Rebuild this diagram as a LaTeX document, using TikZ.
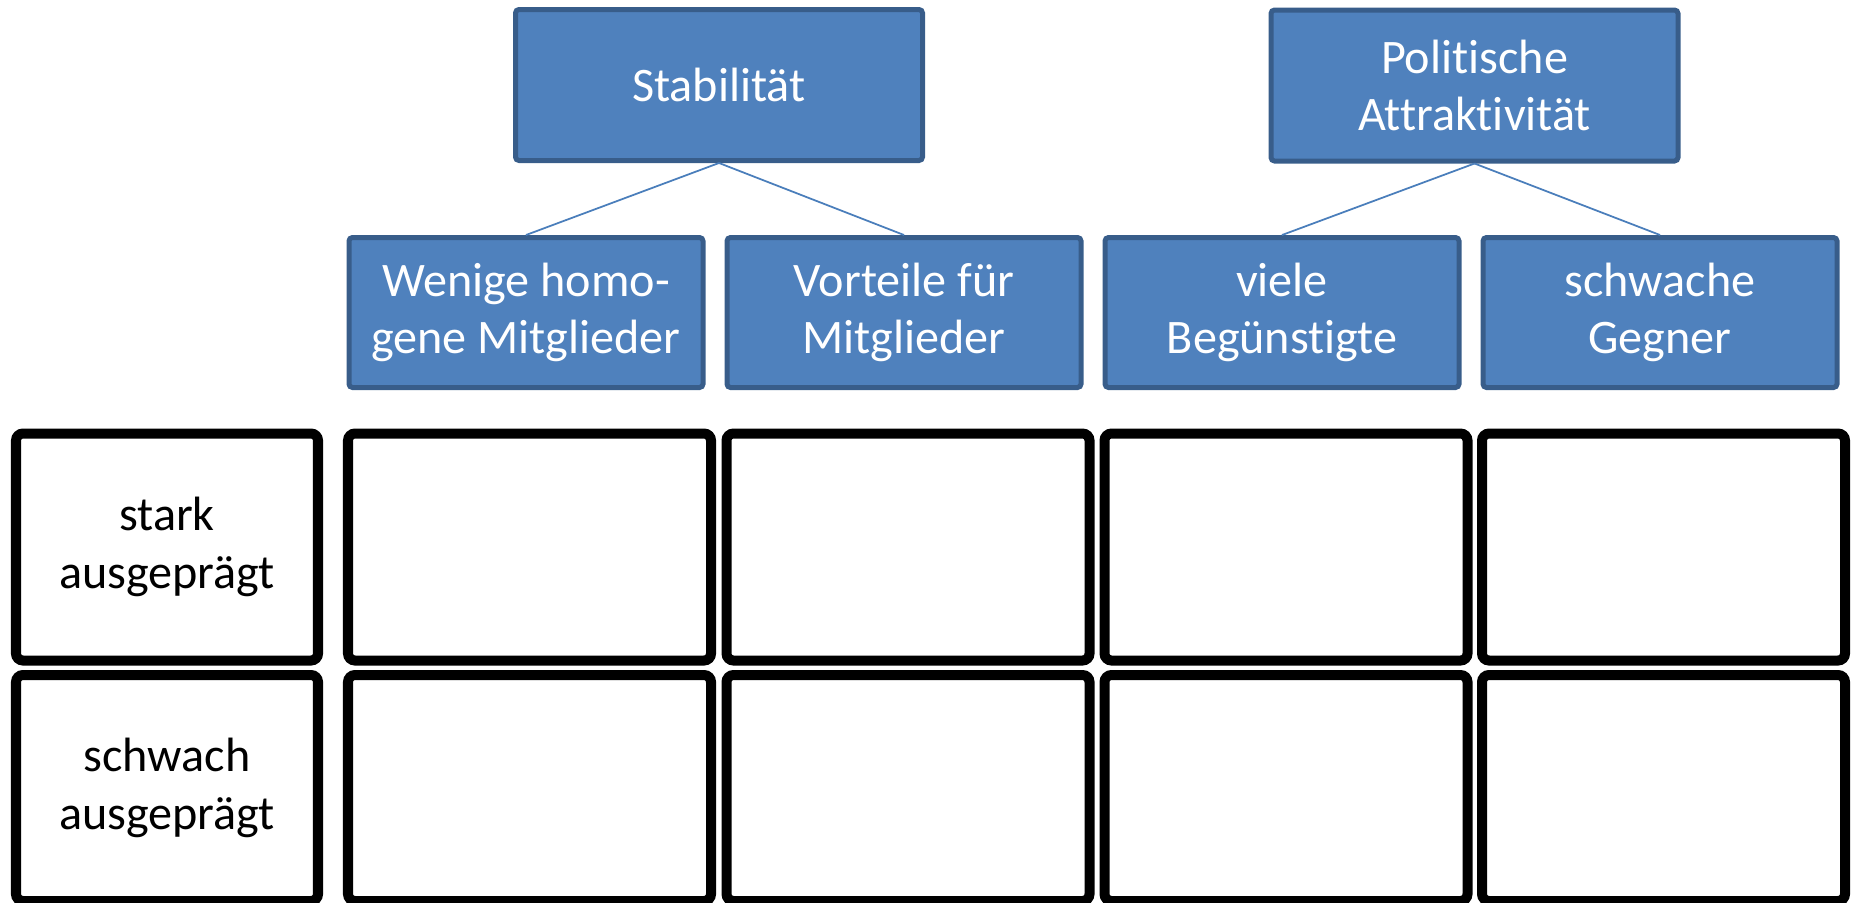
\documentclass[tikz,border=0pt]{standalone}
\usepackage{fontspec}
\setmainfont[Ligatures={NoCommon}]{Carlito}
\usepackage{xcolor}
\usepackage{tikz}
\usetikzlibrary{positioning}
\definecolor{boxfill}{RGB}{79,129,189}
\definecolor{boxline}{RGB}{56,93,138}
\definecolor{link}{RGB}{74,126,187}
\tikzset{
  factor/.style ={rectangle, rounded corners=1pt, draw=boxline, fill=boxfill,
                  line width=1.42pt, text=white, align=center,
                  font=\fontsize{13.7pt}{16.4pt}\selectfont},
  topbox/.style ={factor, minimum width=4.07cm, minimum height=1.51cm},
  subbox/.style ={factor, minimum width=3.54cm, minimum height=1.50cm},
  cell/.style   ={rectangle, rounded corners=2pt, draw=black, fill=white,
                  line width=2.85pt, align=center, minimum height=2.27cm,
                  font=\fontsize{13.7pt}{16.4pt}\selectfont},
  rowcell/.style={cell, minimum width=3.02cm},
  gridcell/.style={cell, minimum width=3.63cm},
  link/.style   ={draw=link, line width=0.5pt},
}

\begin{document}
\begin{tikzpicture}[x=1cm, y=1cm]
\useasboundingbox (0,0) rectangle (18.54,9.02);
\node[topbox] (stab) at (7.19,8.17) {Stabilität};
\node[topbox] (attr) at (14.745,8.165) {Politische\\Attraktivität};
\node[subbox] (homog) at (5.26,5.895) {Wenige homo-\\gene Mitglieder};
\node[subbox] (vort) at (9.04,5.895) {Vorteile für\\Mitglieder};
\node[subbox] (begue) at (12.82,5.895) {viele\\Begünstigte};
\node[subbox] (gegner) at (16.60,5.895) {schwache\\Gegner};
\draw[link] (stab.south) -- (homog.north);
\draw[link] (stab.south) -- (vort.north);
\draw[link] (attr.south) -- (begue.north);
\draw[link] (attr.south) -- (gegner.north);
% stark ausgepraegt
\node[rowcell] (stark) at (1.67,3.55) {stark\\ausgeprägt};
\node[gridcell] (stark-homog) at (5.295,3.55) {};
\node[gridcell] (stark-vort) at (9.08,3.55) {};
\node[gridcell] (stark-begue) at (12.86,3.55) {};
\node[gridcell] (stark-gegner) at (16.635,3.55) {};
% schwach ausgepraegt
\node[rowcell, minimum height=2.26cm] (schwach) at (1.67,1.14) {schwach\\ausgeprägt};
\node[gridcell, minimum height=2.26cm] (schwach-homog) at (5.295,1.14) {};
\node[gridcell, minimum height=2.26cm] (schwach-vort) at (9.08,1.14) {};
\node[gridcell, minimum height=2.26cm] (schwach-begue) at (12.86,1.14) {};
\node[gridcell, minimum height=2.26cm] (schwach-gegner) at (16.635,1.14) {};
\end{tikzpicture}
\end{document}
